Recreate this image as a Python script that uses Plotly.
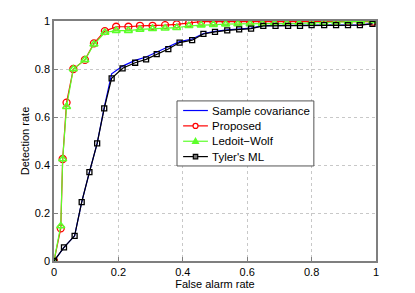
import plotly.graph_objects as go

# Tyler's ML / Sample covariance
x_tyler = [0, 0.031, 0.064, 0.086, 0.11, 0.134, 0.156, 0.179, 0.213, 0.252, 0.286, 0.319, 0.355,
           0.39, 0.429, 0.464, 0.5, 0.538, 0.575, 0.612, 0.65, 0.688, 0.727, 0.764, 0.8, 0.839,
           0.876, 0.913, 0.95, 0.989]
y_tyler = [0, 0.057, 0.105, 0.245, 0.37, 0.49, 0.636, 0.761, 0.803, 0.826, 0.84, 0.862, 0.883,
           0.91, 0.92, 0.946, 0.955, 0.961, 0.965, 0.968, 0.98, 0.98, 0.98, 0.98, 0.983, 0.983,
           0.983, 0.983, 0.983, 0.988]
y_sample = [0, 0.057, 0.105, 0.245, 0.37, 0.49, 0.64, 0.78, 0.812, 0.836, 0.85, 0.872, 0.893,
            0.914, 0.925, 0.948, 0.957, 0.963, 0.967, 0.97, 0.981, 0.981, 0.981, 0.981, 0.984,
            0.984, 0.984, 0.984, 0.984, 0.989]

# Proposed / Ledoit-Wolf
x_prop = [0, 0.021, 0.027, 0.039, 0.06, 0.096, 0.124, 0.158, 0.193, 0.231, 0.267, 0.306, 0.345,
          0.381, 0.419, 0.457, 0.495, 0.533, 0.571, 0.609, 0.647, 0.685, 0.723, 0.761, 0.8,
          0.838, 0.876, 0.914, 0.952, 0.99]
y_prop = [0, 0.136, 0.425, 0.66, 0.8, 0.838, 0.907, 0.958, 0.976, 0.976, 0.98, 0.98, 0.983,
          0.986, 0.99, 0.997, 0.997, 0.997, 0.997, 0.997, 0.997, 0.997, 0.997, 0.997, 0.997,
          0.997, 0.997, 0.997, 0.997, 0.997]
y_lw = [0, 0.146, 0.425, 0.643, 0.8, 0.838, 0.903, 0.952, 0.96, 0.96, 0.965, 0.968, 0.97,
        0.972, 0.98, 0.983, 0.985, 0.987, 0.988, 0.988, 0.989, 0.99, 0.99, 0.99, 0.992,
        0.993, 0.995, 0.997, 0.998, 1.0]

series_names = ["Sample covariance", "Proposed", "Ledoit\u2212Wolf", "Tyler's ML"]
series_colors = ["#0000ff", "#ff0000", "#5cff2a", "#000000"]

x_ticks = [0, 0.2, 0.4, 0.6, 0.8, 1]
y_ticks = [0, 0.2, 0.4, 0.6, 0.8, 1]
tick_text = ["0", "0.2", "0.4", "0.6", "0.8", "1"]

fig = go.Figure()
fig.add_trace(go.Scatter(x=x_tyler, y=y_sample, mode="lines", name=series_names[0],
                         line=dict(color=series_colors[0], width=1.2)))
fig.add_trace(go.Scatter(x=x_prop, y=y_prop, mode="lines+markers", name=series_names[1],
                         line=dict(color=series_colors[1], width=1.2),
                         marker=dict(symbol="circle-open", size=7, color=series_colors[1],
                                     line=dict(width=1.3))))
fig.add_trace(go.Scatter(x=x_prop, y=y_lw, mode="lines+markers", name=series_names[2],
                         line=dict(color=series_colors[2], width=1.2),
                         marker=dict(symbol="triangle-up-open", size=7, color=series_colors[2],
                                     line=dict(width=1.6))))
fig.add_trace(go.Scatter(x=x_tyler, y=y_tyler, mode="lines+markers", name=series_names[3],
                         line=dict(color=series_colors[3], width=1.2),
                         marker=dict(symbol="square-open", size=5, color=series_colors[3],
                                     line=dict(width=1.3))))

# ---- legend box drawn as layout decorations (MATLAB-style compact legend) ----
leg_x0, leg_x1, leg_y0, leg_y1 = 0.382, 0.807, 0.396, 0.667
row_y = [0.627, 0.563, 0.499, 0.435]
seg_x0, seg_x1, mark_x, text_x = 0.401, 0.478, 0.4395, 0.486
shapes = [dict(type="rect", xref="paper", yref="paper", x0=leg_x0, x1=leg_x1,
               y0=leg_y0, y1=leg_y1, line=dict(color="#555", width=1),
               fillcolor="white", layer="above")]
annotations = []
for i, (name, col) in enumerate(zip(series_names, series_colors)):
    yy = row_y[i]
    shapes.append(dict(type="line", xref="paper", yref="paper", x0=seg_x0, x1=seg_x1,
                       y0=yy, y1=yy, line=dict(color=col, width=1.2), layer="above"))
    common = dict(xref="paper", yref="paper", xsizemode="pixel", ysizemode="pixel",
                  xanchor=mark_x, yanchor=yy, layer="above")
    if i == 1:
        shapes.append(dict(type="circle", x0=-2.5, x1=2.5, y0=-2.5, y1=2.5,
                           line=dict(color=col, width=1.2), fillcolor="white", **common))
    elif i == 2:
        shapes.append(dict(type="path", path="M-3,-2.2 L3,-2.2 L0,3 Z",
                           line=dict(color=col, width=1.2), fillcolor=col, **common))
    elif i == 3:
        shapes.append(dict(type="rect", x0=-2.2, x1=2.2, y0=-2.2, y1=2.2,
                           line=dict(color=col, width=1.2), fillcolor="#777", **common))
    annotations.append(dict(xref="paper", yref="paper", x=text_x, y=yy, text=name,
                            showarrow=False, xanchor="left", yanchor="middle",
                            font=dict(family="Liberation Sans, Arial", size=11.5,
                                      color="#000")))

axis_common = dict(
    range=[0, 1], showgrid=True, gridcolor="#c8c8c8", griddash="dot", gridwidth=1,
    showline=True, linecolor="#7f7f7f", linewidth=1.5, mirror=True,
    ticks="inside", ticklen=4, tickcolor="#7f7f7f", zeroline=False, automargin=False,
    tickfont=dict(family="Liberation Sans, Arial", size=11, color="#000"),
    tickvals=x_ticks, ticktext=tick_text,
)

# page body adds an 8px offset; figure sized to fit the 415x293 window
fig.update_layout(
    width=407, height=285,
    margin=dict(l=46, r=39, t=13, b=32),
    paper_bgcolor="white", plot_bgcolor="white",
    font=dict(family="Liberation Sans, Arial", size=11, color="#000"),
    xaxis=dict(**axis_common, title=dict(text="False alarm rate", standoff=3,
                                         font=dict(size=11))),
    yaxis=dict(**{**axis_common, "tickvals": y_ticks},
               title=dict(text="Detection rate", standoff=3, font=dict(size=11))),
    showlegend=False,
    shapes=shapes,
    annotations=annotations,
)

fig.write_html("out.html")
